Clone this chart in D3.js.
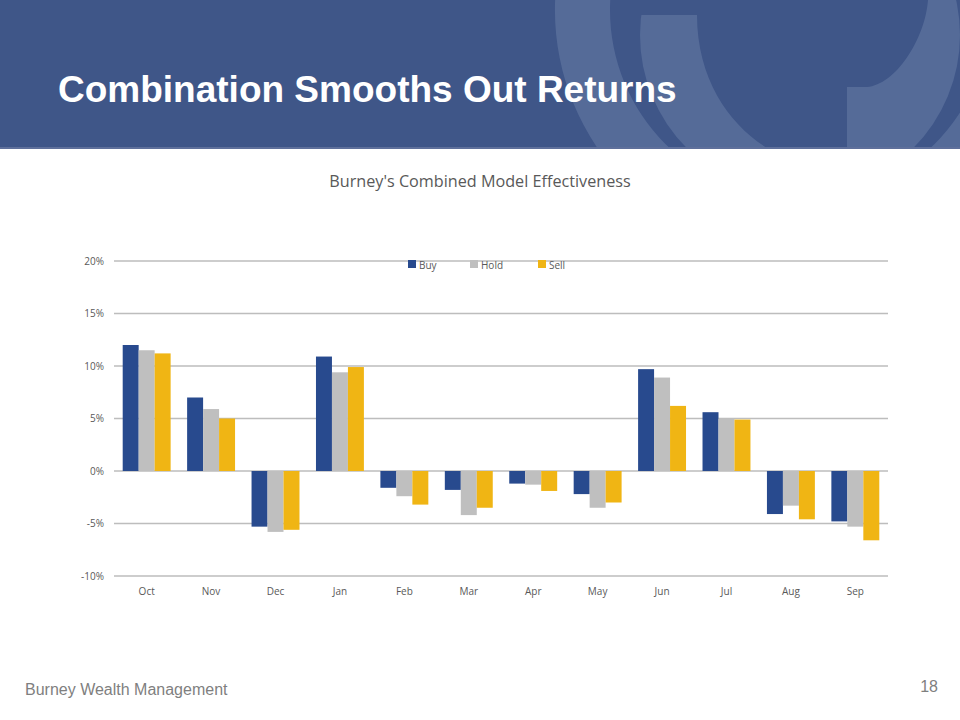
<!DOCTYPE html>
<html>
<head>
<meta charset="utf-8">
<script src="https://cdn.jsdelivr.net/npm/d3@7"></script>
<style>
  html, body { margin: 0; padding: 0; background: #ffffff; }
  svg { display: block; }
</style>
</head>
<body>
<script>
// ---- Data ----
const months = ["Oct","Nov","Dec","Jan","Feb","Mar","Apr","May","Jun","Jul","Aug","Sep"];
const seriesNames = ["Buy","Hold","Sell"];
const buy  = [12.0, 7.0, -5.3, 10.9, -1.6, -1.8, -1.2, -2.2, 9.7, 5.6, -4.1, -4.8];
const hold = [11.5, 5.9, -5.8,  9.4, -2.4, -4.2, -1.3, -3.5, 8.9, 5.0, -3.3, -5.3];
const sell = [11.2, 5.0, -5.6,  9.9, -3.2, -3.5, -1.9, -3.0, 6.2, 4.9, -4.6, -6.6];
const yTicks = [-10, -5, 0, 5, 10, 15, 20];
const yTickLabels = ["-10%","-5%","0%","5%","10%","15%","20%"];
const slideTitle = "Combination Smooths Out Returns";
const chartTitle = "Burney's Combined Model Effectiveness";
const footerText = "Burney Wealth Management";
const pageNumber = "18";

const colors = { Buy: "#284a8e", Hold: "#bfbfbf", Sell: "#f0b514" };
const seriesData = { Buy: buy, Hold: hold, Sell: sell };

const W = 960, H = 720;
const svg = d3.select("body").append("svg").attr("width", W).attr("height", H);

// ---- Header band ----
const headerBg = "#3f5688", headerLight = "#556b98";
const hdr = svg.append("g");
hdr.append("rect").attr("x", 0).attr("y", 0).attr("width", W).attr("height", 148).attr("fill", headerBg);
hdr.append("clipPath").attr("id", "hclip").append("rect").attr("x", 0).attr("y", 0).attr("width", W).attr("height", 148);
const deco = hdr.append("g").attr("clip-path", "url(#hclip)");
const ring1 = d3.arc().innerRadius(190).outerRadius(245).startAngle(0).endAngle(2 * Math.PI);
deco.append("path").attr("d", ring1()).attr("transform", "translate(800,10)").attr("fill", headerLight);
deco.append("circle").attr("cx", 800).attr("cy", 35).attr("r", 160).attr("fill", headerLight);
deco.append("rect").attr("x", 612).attr("y", 0).attr("width", 188).attr("height", 15).attr("fill", headerBg);
deco.append("path")
  .attr("d", "M697,15 C697,80 730,125 767,148 L847,148 L847,87 L867,87 C895,85 925,40 928,0 L697,0 Z")
  .attr("fill", headerBg);
hdr.append("rect").attr("x", 0).attr("y", 147).attr("width", W).attr("height", 2).attr("fill", "#5f709b");

svg.append("text")
  .attr("x", 58).attr("y", 102)
  .attr("font-family", "'Liberation Sans', Arial, sans-serif")
  .attr("font-weight", "bold").attr("font-size", 37)
  .attr("fill", "#ffffff")
  .text(slideTitle);

// ---- Chart ----
const x0 = 114, x1 = 888, yTop = 261, yBot = 576;
const x = d3.scaleBand().domain(months).range([x0, x1]).paddingInner(0.256).paddingOuter(0.135);
const xs = d3.scaleBand().domain(seriesNames).range([0, x.bandwidth()]).padding(0);
const y = d3.scaleLinear().domain([-10, 20]).range([yBot, yTop]);

const textFont = "'Open Sans', 'DejaVu Sans', sans-serif";

svg.append("text")
  .attr("x", 480).attr("y", 187)
  .attr("text-anchor", "middle")
  .attr("font-family", textFont).attr("font-size", 16.2)
  .attr("fill", "#595959")
  .text(chartTitle);

// gridlines
svg.append("g").selectAll("line").data(yTicks).join("line")
  .attr("x1", x0).attr("x2", x1)
  .attr("y1", d => y(d)).attr("y2", d => y(d))
  .attr("stroke", "#bdbdbd").attr("stroke-width", 1.6);

// y axis labels
const yAxis = d3.axisLeft(y).tickValues(yTicks)
  .tickFormat(d => yTickLabels[yTicks.indexOf(d)]).tickSize(0).tickPadding(0);
const gy = svg.append("g").attr("transform", `translate(${x0 - 10},0)`).call(yAxis);
gy.select(".domain").remove();
gy.selectAll("text").attr("font-family", textFont).attr("font-size", 10).attr("fill", "#595959");

// bars
const groups = svg.append("g").selectAll("g").data(months).join("g")
  .attr("transform", d => `translate(${x(d)},0)`);
groups.selectAll("rect").data((m, i) => seriesNames.map(s => ({ s, v: seriesData[s][i] }))).join("rect")
  .attr("x", d => xs(d.s))
  .attr("width", xs.bandwidth())
  .attr("y", d => y(Math.max(0, d.v)))
  .attr("height", d => Math.abs(y(d.v) - y(0)))
  .attr("fill", d => colors[d.s]);

// x axis labels
const xAxis = d3.axisBottom(x).tickSize(0).tickPadding(0);
const gx = svg.append("g").attr("transform", `translate(0,${yBot + 12})`).call(xAxis);
gx.select(".domain").remove();
gx.selectAll("text").attr("font-family", textFont).attr("font-size", 10).attr("fill", "#595959");

// legend
const legendX = { Buy: 408, Hold: 470, Sell: 538 };
const lg = svg.append("g").selectAll("g").data(seriesNames).join("g")
  .attr("transform", d => `translate(${legendX[d]},260)`);
lg.append("rect").attr("width", 8).attr("height", 8).attr("fill", d => colors[d]);
lg.append("text").attr("x", 11).attr("y", 8.5)
  .attr("font-family", textFont).attr("font-size", 10).attr("fill", "#595959")
  .text(d => d);

// footer
svg.append("text").attr("x", 25).attr("y", 695)
  .attr("font-family", "'Liberation Sans', Arial, sans-serif").attr("font-size", 16)
  .attr("fill", "#7f7f7f").text(footerText);
svg.append("text").attr("x", 938).attr("y", 692).attr("text-anchor", "end")
  .attr("font-family", "'Liberation Sans', Arial, sans-serif").attr("font-size", 16)
  .attr("fill", "#7f7f7f").text(pageNumber);
</script>
</body>
</html>
